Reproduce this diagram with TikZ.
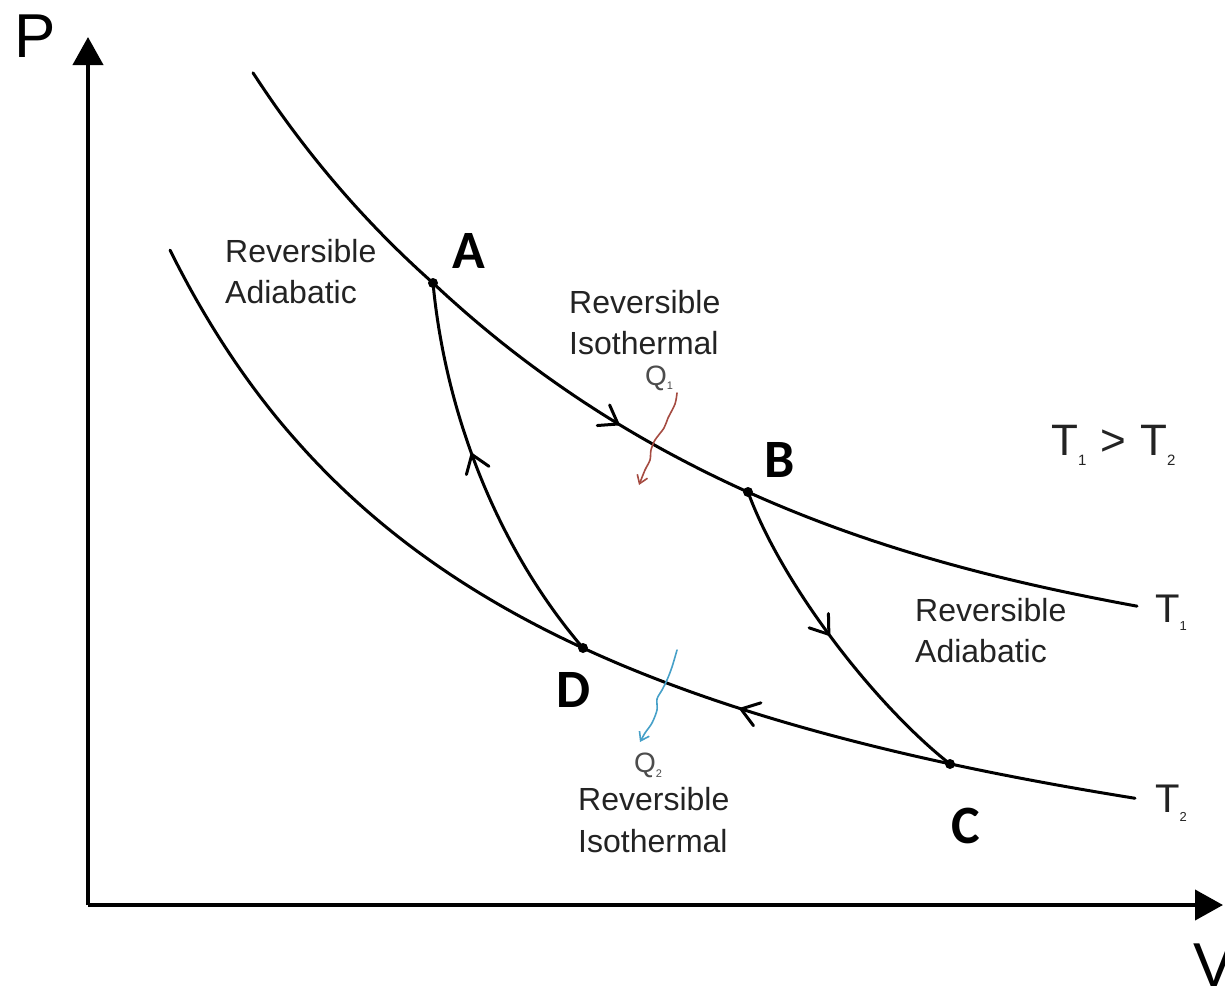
\documentclass[tikz,border=0pt]{standalone}
\usepackage{fontspec}
\setmainfont{Liberation Sans}
\newfontfamily\lblfont{Carlito}
\usetikzlibrary{arrows.meta,decorations.markings}
\definecolor{qred}{RGB}{165,75,65}
\definecolor{qblue}{RGB}{70,160,200}
\definecolor{txt}{RGB}{35,35,35}
\newcommand\subtxt[3]{\raisebox{-#1pt}{\fontsize{#2}{#2}\selectfont #3}}
\begin{document}
\begin{tikzpicture}[x=1pt,y=-1pt,
  axis/.style={line width=4pt, -{Triangle[length=28pt,width=30pt]}},
  curve/.style={line width=3pt, line cap=round, line join=round},
  chev/.style={line width=3pt, line cap=round, line join=miter},
  midchev/.style={postaction={decorate, decoration={markings,
      mark=at position #1 with {\draw[chev] (-17,-12) -- (0,0) -- (-17,12);}}}},
  lbl/.style={font=\fontsize{32}{38}\selectfont, text=txt, inner sep=0pt, anchor=base west},
  qlbl/.style={font=\fontsize{28}{32}\selectfont, text=black!70, inner sep=0pt, anchor=base west},
  tlbl/.style={font=\fontsize{40}{44}\selectfont, text=txt, inner sep=0pt, anchor=base west},
  axlbl/.style={font=\fontsize{62}{66}\selectfont, text=black, inner sep=0pt, anchor=base west},
  ptlbl/.style={font=\lblfont\bfseries\fontsize{54}{60}\selectfont, text=black, inner sep=0pt, anchor=base},
  squig/.style={line width=1.6pt, line cap=round, -{Straight Barb[length=8pt,width=11pt]}}
]
\useasboundingbox (0,0) rectangle (1225,990);
% axes
\coordinate (O) at (88,905);
\coordinate (ytop) at (88,37);
\coordinate (xend) at (1223,905);
\draw[axis] (O) -- (ytop);
\draw[axis] (O) -- (xend);
\node[axlbl] (P) at (14,57) {P};
\node[axlbl] (V) at (1193,986) {V};
% state points
\coordinate (A) at (433,283);
\coordinate (B) at (748,492);
\coordinate (C) at (950,764);
\coordinate (D) at (583,648);
% isotherms
\draw[curve] plot[domain=253:1137, samples=150, smooth]
  (\x, {951.8 - 503.6/((\x+320)/1000) + (\x>433)*12*sin(0.25568*(\x-433))});
\draw[curve] plot[domain=170:1135, samples=150, smooth]
  (\x, {1014.1 - 290.3/((\x+210)/1000)});
% adiabats
\draw[curve, midchev=0.56] (D) .. controls (495,545) and (445,410) .. (A);
\draw[curve, midchev=0.48] (B) .. controls (782,585) and (875,705) .. (C);
% direction chevrons on isotherms
\draw[chev, shift={(618,424)}, rotate=-31] (-17,-12) -- (0,0) -- (-17,12);
\draw[chev, shift={(741,709)}, rotate=162] (-17,-12) -- (0,0) -- (-17,12);
% dots
\foreach \p in {A,B,C,D} \fill (\p) circle[radius=5pt];
% heat flows
\draw[squig, qred] plot[smooth] coordinates {(677,393) (675,404) (668,418) (664,428) (655,440) (651,450) (650,460) (645,470) (639,485)};
\draw[squig, qblue] plot[smooth] coordinates {(677,650) (672,667) (667,680) (662,690) (657,699) (657,710) (652,723) (645,733) (640,742)};
\node[qlbl] (q1) at (645,385) {Q\subtxt{4}{11}{1}};
\node[qlbl] (q2) at (634,772) {Q\subtxt{5}{11}{2}};
% point labels
\node[ptlbl] (lA) at (469,268) {A};
\node[ptlbl] (lB) at (780,477) {B};
\node[ptlbl] (lD) at (574,707) {D};
\node[ptlbl] (lC) at (966,843) {C};
% process labels
\node[lbl] (rl1) at (225,262) {Reversible};
\node[lbl] (rl2) at (225,303) {Adiabatic};
\node[lbl] (ri1) at (569,313) {Reversible};
\node[lbl] (ri2) at (569,354) {Isothermal};
\node[lbl] (rr1) at (915,621) {Reversible};
\node[lbl] (rr2) at (915,662) {Adiabatic};
\node[lbl] (rb1) at (578,810) {Reversible};
\node[lbl] (rb2) at (578,852) {Isothermal};
% temperatures
\node[tlbl] (t1) at (1155,622) {T\subtxt{8}{13}{1}};
\node[tlbl] (t2) at (1155,812) {T\subtxt{9}{13}{2}};
\node[tlbl, font=\fontsize{44}{48}\selectfont] (trel) at (1051,455) {T\subtxt{10}{15}{1}\hspace{14pt}>\hspace{14pt}T\subtxt{10}{15}{2}};
\end{tikzpicture}
\end{document}
